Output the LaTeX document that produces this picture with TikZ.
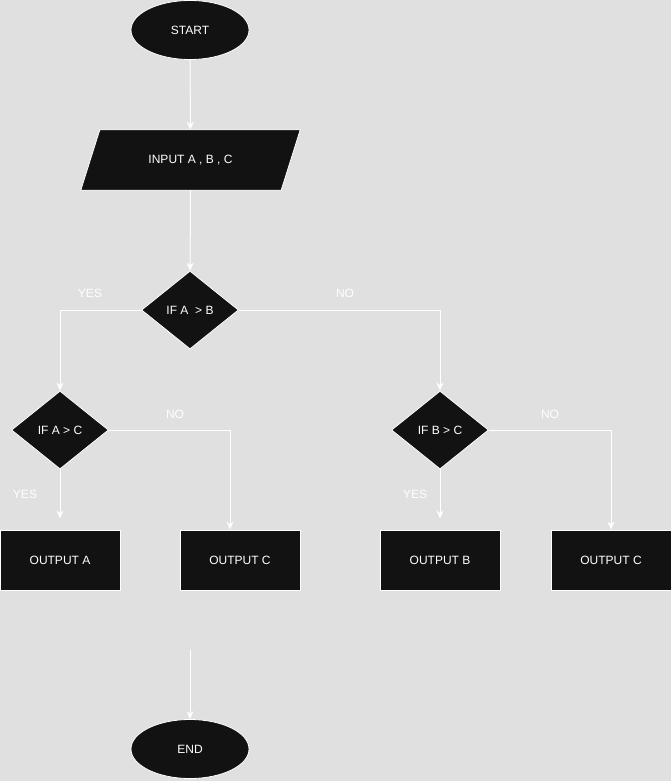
\documentclass[tikz,border=0pt]{standalone}
\usepackage{fontspec}
\setmainfont{Liberation Sans}
\usetikzlibrary{shapes.geometric,arrows.meta}
\definecolor{bg}{HTML}{E0E0E0}
\definecolor{boxfill}{HTML}{121212}
\begin{document}
\begin{tikzpicture}[x=1pt,y=-1pt,
  shp/.style={draw=white,line width=0.8pt,fill=boxfill,text=white,inner sep=0pt,font=\fontsize{12}{14}\selectfont},
  term/.style={shp,ellipse,minimum width=118pt,minimum height=59pt},
  io/.style={rectangle,text=white,inner sep=0pt,minimum width=200pt,minimum height=60pt,font=\fontsize{12}{14}\selectfont},
  test/.style={shp,diamond,minimum width=97pt,minimum height=78pt},
  outbox/.style={shp,rectangle,minimum width=120pt,minimum height=60pt},
  lbl/.style={text=white,font=\fontsize{12}{14}\selectfont},
  link/.style={draw=white,line width=1pt,-{Stealth[length=8pt,width=7pt,inset=2.5pt]}}]
\fill[bg] (0,0) rectangle (671,781);
\useasboundingbox (0,0) rectangle (671,781);
\node[term] (start) at (190,30) {START};
\node[io] (input) at (190.5,160) {};
\filldraw[draw=white,line width=0.8pt,fill=boxfill] ([xshift=9.5pt]input.north west) -- ([xshift=9.5pt]input.north east) -- ([xshift=-9.5pt]input.south east) -- ([xshift=-9.5pt]input.south west) -- cycle;
\node[io] (inputtext) at (input) {INPUT A , B , C};
\node[test] (ifab) at (190,310) {IF A ~> B};
\node[test] (ifac) at (60,430) {IF A > C};
\node[test] (ifbc) at (440,430) {IF B > C};
\node[outbox] (outa) at (60,560) {OUTPUT A};
\node[outbox] (outcl) at (240,560) {OUTPUT C};
\node[outbox] (outb) at (440,560) {OUTPUT B};
\node[outbox] (outcr) at (611,560) {OUTPUT C};
\node[term] (end) at (190,749) {END};
\coordinate (endin) at (190,650);
\node[lbl] (yesab) at (90,293) {YES};
\node[lbl] (noab) at (345,293) {NO};
\node[lbl] (noac) at (175,414) {NO};
\node[lbl] (yesac) at (25,494) {YES};
\node[lbl] (nobc) at (550,414) {NO};
\node[lbl] (yesbc) at (415,494) {YES};
\draw[link] (start) -- (input);
\draw[link] (input) -- (ifab);
\draw[link] (ifab.west) -| (ifac.north);
\draw[link] (ifab.east) -| (ifbc.north);
\draw[link] (ifac.east) -| ([xshift=-10pt]outcl.north);
\draw[link] (ifbc.east) -| (outcr.north);
\draw[link] (ifac.south) -- ([yshift=11pt]outa.north);
\draw[link] (ifbc.south) -- ([yshift=11pt]outb.north);
\draw[link] (endin) -- (end);
\end{tikzpicture}
\end{document}
